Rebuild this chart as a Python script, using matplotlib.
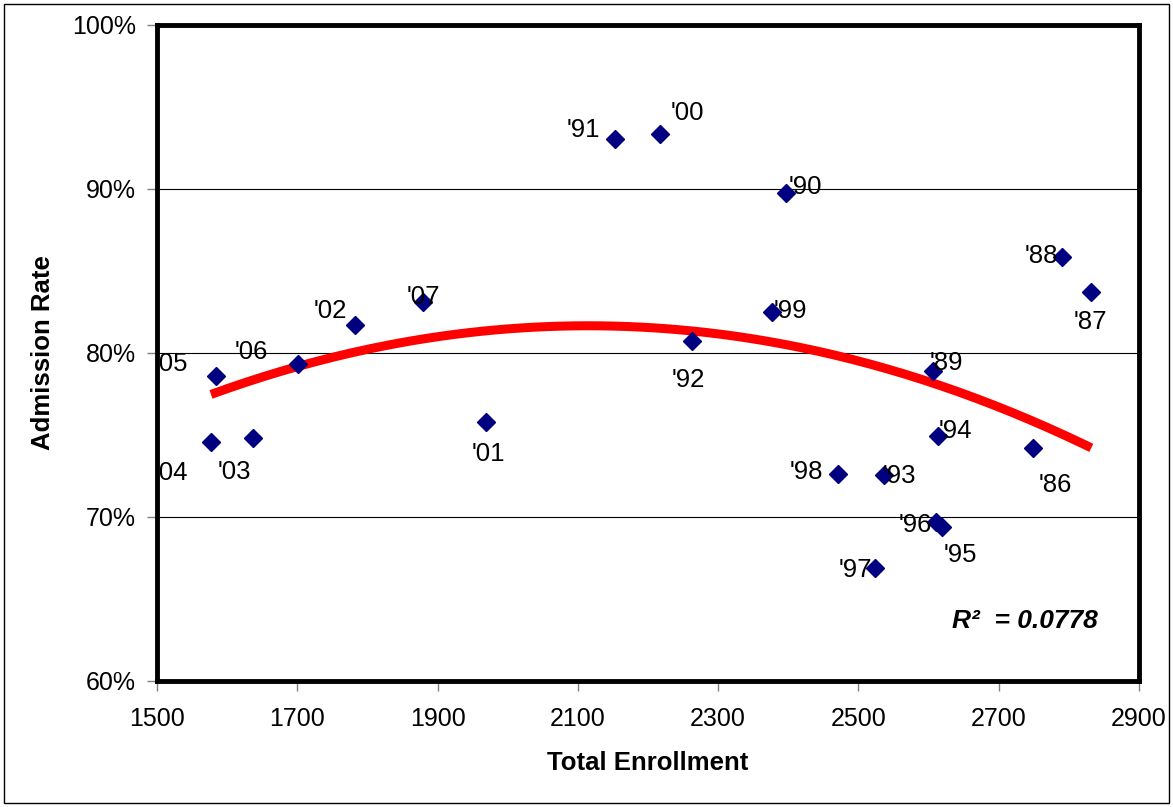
import numpy as np
import matplotlib.pyplot as plt
from matplotlib.patches import Rectangle

plt.rcParams['font.family'] = ['Liberation Sans', 'DejaVu Sans']

# data
years = ["'86", "'87", "'88", "'89", "'90", "'91", "'92", "'93", "'94", "'95", "'96",
         "'97", "'98", "'99", "'00", "'01", "'02", "'03", "'04", "'05", "'06", "'07"]
enrollment = [2749, 2832, 2790, 2606, 2397, 2153, 2263, 2536, 2613, 2619, 2611,
              2524, 2471, 2377, 2217, 1969, 1782, 1637, 1577, 1584, 1701, 1879]
admit_rate = [74.2, 83.7, 85.85, 78.9, 89.75, 93.05, 80.75, 72.55, 74.95, 69.4, 69.7,
              66.9, 72.6, 82.5, 93.35, 75.8, 81.7, 74.8, 74.6, 78.6, 79.35, 83.1]

x_ticks = [1500, 1700, 1900, 2100, 2300, 2500, 2700, 2900]
y_ticks = [60, 70, 80, 90, 100]

# label offsets in pixels (dx, dy)
offsets = {"'86": (22, -37), "'87": (-1, -30), "'88": (-20, 1), "'89": (14, 8),
           "'90": (19, 6), "'91": (-32, 9), "'92": (-4, -39), "'93": (16, -1),
           "'94": (18, 5), "'95": (18, -28), "'96": (-21, -3), "'97": (-20, -2),
           "'98": (-32, 2), "'99": (18, 1), "'00": (27, 21), "'01": (2, -32),
           "'02": (-24, 14), "'03": (-19, -34), "'04": (-40, -31), "'05": (-45, 12),
           "'06": (-47, 12), "'07": (1, 5)}

x = np.array(enrollment, dtype=float)
y = np.array(admit_rate, dtype=float)

fig = plt.figure(figsize=(11.73, 8.07), dpi=100)
ax = fig.add_axes([157 / 1173, 1 - 681 / 807, 982 / 1173, 656 / 807])

# quadratic trendline
coef = np.polyfit(x, y, 2)
xs = np.linspace(x.min(), x.max(), 200)
ax.plot(xs, np.polyval(coef, xs), color='red', lw=6.5, solid_capstyle='butt', zorder=3)

ax.plot(x, y, 'D', color='#000080', ms=9, zorder=4)

for lab, xi, yi in zip(years, x, y):
    dx, dy = offsets[lab]
    ax.annotate(lab, (xi, yi), xytext=(dx, dy), textcoords='offset pixels',
                ha='center', va='center', fontsize=18.5, clip_on=True, zorder=5)

ax.text(0.884, 0.0915, 'R²  = 0.0778', transform=ax.transAxes, ha='center', va='center',
        fontsize=19, fontweight='bold', fontstyle='italic')

ax.set_xlim(1500, 2900)
ax.set_ylim(60, 100)
ax.set_xticks(x_ticks)
ax.set_yticks(y_ticks)
ax.set_yticklabels([f'{v}%' for v in y_ticks])
ax.yaxis.grid(True, color='black', lw=0.8)
ax.set_axisbelow(True)
ax.tick_params(direction='out', length=7, width=1, color='gray', labelsize=18)
ax.tick_params(axis='x', pad=12)
ax.tick_params(axis='y', pad=8)

for s in ax.spines.values():
    s.set_linewidth(3.5)
    s.set_color('black')

ax.set_xlabel('Total Enrollment', fontsize=18.5, fontweight='bold', labelpad=14)
ax.set_ylabel('Admission Rate', fontsize=18.5, fontweight='bold', labelpad=12)

fig.patches.append(Rectangle((4 / 1173, 4 / 807), 1165 / 1173, 799 / 807,
                             transform=fig.transFigure, fill=False, ec='black', lw=1))

fig.savefig('out.png', dpi=100)
